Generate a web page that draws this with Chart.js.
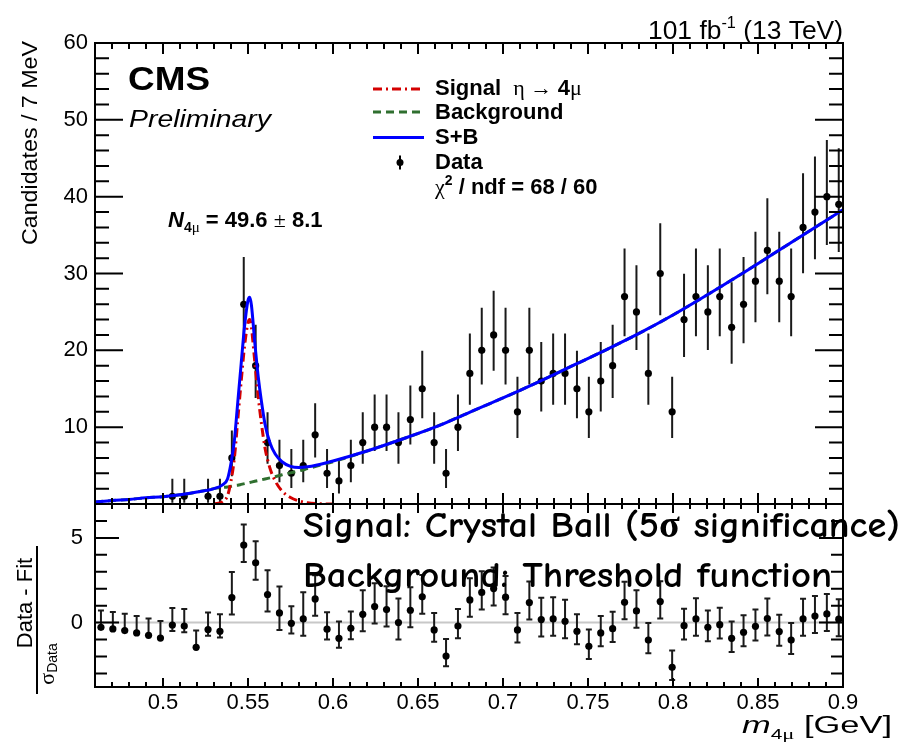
<!DOCTYPE html>
<html>
<head>
<meta charset="utf-8">
<script src="https://cdn.jsdelivr.net/npm/chart.js@4.4.1/dist/chart.umd.min.js"></script>
<style>
  html, body { margin: 0; padding: 0; background: #fff; }
  #wrap { position: relative; width: 903px; height: 746px; }
  #wrap canvas { position: absolute; left: 0; top: 0; }
</style>
</head>
<body>
<div id="wrap">
  <canvas id="fitChart" width="903" height="746"></canvas>
  <canvas id="pullChart" width="903" height="746"></canvas>
</div>
<script>
// m(4mu) bin centres in GeV (7 MeV bins)
const massBins = [
  0.4635, 0.4705, 0.4775, 0.4845, 0.4915, 0.4985, 0.5055, 0.5125, 0.5195, 0.5265,
  0.5335, 0.5405, 0.5475, 0.5545, 0.5615, 0.5685, 0.5755, 0.5825, 0.5895, 0.5965,
  0.6035, 0.6105, 0.6175, 0.6245, 0.6315, 0.6385, 0.6455, 0.6525, 0.6595, 0.6665,
  0.6735, 0.6805, 0.6875, 0.6945, 0.7015, 0.7085, 0.7155, 0.7225, 0.7295, 0.7365,
  0.7435, 0.7505, 0.7575, 0.7645, 0.7715, 0.7785, 0.7855, 0.7925, 0.7995, 0.8065,
  0.8135, 0.8205, 0.8275, 0.8345, 0.8415, 0.8485, 0.8555, 0.8625, 0.8695, 0.8765,
  0.8835, 0.8905, 0.8975
];

// candidates per bin
const counts = [
  0, 0, 0, 0, 0, 0, 1, 1, 0, 1,
  1, 6, 26, 18, 8, 5, 4, 5, 9, 4,
  3, 5, 8, 10, 10, 8, 11, 15, 8, 4,
  10, 17, 20, 22, 20, 12, 20, 16, 17, 17,
  15, 12, 16, 18, 27, 25, 17, 30, 12, 24,
  27, 25, 27, 23, 26, 29, 33, 29, 27, 36,
  38, 40, 39
];

// (Data - Fit) / sigma_Data per bin
const pulls = [
  -0.28, -0.37, -0.47, -0.61, -0.75, -0.91, -0.14, -0.2, -1.46, -0.41,
  -0.51, 1.48, 4.58, 3.53, 1.66, 0.57, -0.04, 0.22, 1.40, -0.39,
  -0.93, -0.34, 0.49, 0.95, 0.77, 0.0, 0.73, 1.52, -0.43, -1.97,
  -0.2, 1.34, 1.78, 2.01, 1.5, -0.43, 1.18, 0.18, 0.22, 0.08,
  -0.51, -1.4, -0.61, -0.36, 1.2, 0.69, -1.03, 1.24, -2.64, -0.18,
  0.22, -0.28, -0.12, -0.93, -0.57, -0.22, 0.24, -0.53, -1.03, 0.22,
  0.39, 0.51, 0.2
];

// fitted S+B and background curves
const curveMass = [
  0.46, 0.47, 0.48, 0.49, 0.50, 0.51, 0.52, 0.53, 0.535, 0.538,
  0.540, 0.542, 0.544, 0.546, 0.548, 0.550, 0.551, 0.552, 0.554, 0.556,
  0.558, 0.560, 0.563, 0.566, 0.570, 0.575, 0.580, 0.585, 0.590, 0.60,
  0.62, 0.64, 0.66, 0.68, 0.70, 0.72, 0.74, 0.76, 0.78, 0.80,
  0.82, 0.84, 0.86, 0.88, 0.90
];
const sbCurve = [
  0.25, 0.45, 0.6, 0.8, 0.95, 1.2, 1.55, 2.0, 2.5, 3.3,
  5.3, 8.3, 13.3, 18.3, 23.2, 26.5, 26.9, 25.9, 21.0, 16.6,
  13.2, 10.4, 7.9, 6.5, 5.5, 4.9, 4.75, 4.85, 5.05, 5.6,
  6.9, 8.4, 10.0, 11.9, 13.8, 15.8, 17.9, 20.0, 22.2, 24.6,
  27.2, 29.9, 32.7, 35.5, 38.3
];
const bkgCurve = [
  0.25, 0.45, 0.6, 0.8, 0.95, 1.2, 1.55, 2.0, 2.15, 2.2,
  2.3, 2.4, 2.45, 2.55, 2.65, 2.75, 2.8, 2.85, 2.95, 3.05,
  3.15, 3.25, 3.4, 3.55, 3.8, 4.05, 4.3, 4.6, 4.9, 5.5,
  6.9, 8.4, 10.0, 11.9, 13.8, 15.8, 17.9, 20.0, 22.2, 24.6,
  27.2, 29.9, 32.7, 35.5, 38.3
];

// Crystal Ball signal component
const sigMass = [
  0.53, 0.535, 0.538, 0.540, 0.542, 0.544, 0.546, 0.548, 0.550, 0.551,
  0.552, 0.554, 0.556, 0.558, 0.560, 0.563, 0.566, 0.570, 0.575, 0.580,
  0.585, 0.590, 0.60
];
const sigCurve = [
  0.02, 0.3, 1.1, 3.0, 6.0, 11.0, 16.0, 20.6, 23.6, 24.0,
  23.0, 18.5, 14.0, 10.3, 7.3, 4.6, 3.0, 1.7, 0.85, 0.4,
  0.15, 0.05, 0
];

const xTickLabels = [0.5, 0.55, 0.6, 0.65, 0.7, 0.75, 0.8, 0.85, 0.9];
const yTickLabelsFit = [10, 20, 30, 40, 50, 60];
const yTickLabelsPull = [0, 5];

const SANS = '"Liberation Sans", Arial, Helvetica, sans-serif';
const SERIF = '"Liberation Serif", "Times New Roman", serif';
const HAND = '"Comic Sans MS", "Comic Neue", "Segoe Print", cursive';

// asymmetric Poisson interval (Wilson-Hilferty approximation)
function poissonErr(n) {
  if (n === 0) return [0, 1.84];
  const lo = n * Math.pow(1 - 1 / (9 * n) - 1 / (3 * Math.sqrt(n)), 3);
  const m = n + 1;
  const hi = m * Math.pow(1 - 1 / (9 * m) + 1 / (3 * Math.sqrt(m)), 3);
  return [n - lo, hi - n];
}

// draws a run of differently styled pieces, optionally squeezed to a width
function textRun(ctx, parts, x, y, align, width) {
  let w = 0;
  for (const p of parts) { ctx.font = p.f; w += ctx.measureText(p.t).width; }
  const sx = width ? width / w : 1;
  const full = w * sx;
  const x0 = align === 'right' ? x - full : align === 'center' ? x - full / 2 : x;
  ctx.save();
  ctx.textAlign = 'left';
  ctx.translate(x0, y);
  ctx.scale(sx, 1);
  let cx = 0;
  for (const p of parts) {
    ctx.font = p.f;
    ctx.fillText(p.t, cx, p.dy || 0);
    cx += ctx.measureText(p.t).width;
  }
  ctx.restore();
}

function drawFrame(chart, spec) {
  const { ctx, chartArea: a, scales: { x, y } } = chart;
  ctx.save();
  ctx.strokeStyle = '#000';
  ctx.lineWidth = 2;
  ctx.beginPath();
  for (let k = 46; k <= 90; k++) {
    const px = x.getPixelForValue(k / 100);
    const len = k % 5 === 0 ? spec.xMajor : spec.xMinor;
    ctx.moveTo(px, a.bottom); ctx.lineTo(px, a.bottom - len);
    ctx.moveTo(px, a.top); ctx.lineTo(px, a.top + len);
  }
  for (let v = spec.yFrom; v <= spec.yTo; v += spec.yStep) {
    const py = y.getPixelForValue(v);
    const len = v % spec.yEvery === 0 ? spec.yMajor : spec.yMinor;
    ctx.moveTo(a.left, py); ctx.lineTo(a.left + len, py);
    ctx.moveTo(a.right, py); ctx.lineTo(a.right - len, py);
  }
  ctx.stroke();
  ctx.strokeRect(a.left, a.top, a.right - a.left, a.bottom - a.top);

  ctx.fillStyle = '#000';
  ctx.font = '22px ' + SANS;
  ctx.textAlign = 'right';
  ctx.textBaseline = 'middle';
  for (const v of spec.yLabels) {
    ctx.fillText(String(v), spec.yLabelX, y.getPixelForValue(v));
  }
  ctx.restore();
}

const fitDecor = {
  id: 'fitDecor',
  beforeDatasetsDraw(chart) {
    const { ctx, chartArea: a, scales: { x, y } } = chart;
    ctx.save();
    ctx.beginPath();
    ctx.rect(a.left, a.top, a.right - a.left, a.bottom - a.top);
    ctx.clip();
    ctx.strokeStyle = '#1a1a1a';
    ctx.lineWidth = 2;
    ctx.beginPath();
    counts.forEach((n, i) => {
      if (n === 0) return;
      const [lo, hi] = poissonErr(n);
      const px = x.getPixelForValue(massBins[i]);
      ctx.moveTo(px, y.getPixelForValue(n - lo));
      ctx.lineTo(px, y.getPixelForValue(n + hi));
    });
    ctx.stroke();
    ctx.restore();
  },
  afterDraw(chart) {
    const ctx = chart.ctx;
    drawFrame(chart, {
      xMajor: 11, xMinor: 6,
      yFrom: 0, yTo: 60, yStep: 2, yEvery: 10, yMajor: 28, yMinor: 14,
      yLabels: yTickLabelsFit, yLabelX: 88
    });

    ctx.save();
    ctx.fillStyle = '#000';
    ctx.textBaseline = 'alphabetic';

    textRun(ctx, [
      { t: '101 fb', f: '26px ' + SANS },
      { t: '-1', f: '16px ' + SANS, dy: -11 },
      { t: ' (13 TeV)', f: '26px ' + SANS }
    ], 843, 39, 'right', 195);

    textRun(ctx, [{ t: 'CMS', f: 'bold 33px ' + SANS }], 128, 90, 'left', 82);
    textRun(ctx, [{ t: 'Preliminary', f: 'italic 24px ' + SANS }], 129, 127, 'left', 142);

    // legend
    const B22 = 'bold 22px ' + SANS;
    const S22 = '22px ' + SERIF;
    const rows = [95, 119, 143.5, 168.5, 194];
    textRun(ctx, [
      { t: 'Signal  ', f: B22 }, { t: 'η → ', f: S22 },
      { t: '4', f: B22 }, { t: 'μ', f: S22 }
    ], 435, rows[0], 'left');
    textRun(ctx, [{ t: 'Background', f: B22 }], 435, rows[1], 'left');
    textRun(ctx, [{ t: 'S+B', f: B22 }], 435, rows[2], 'left');
    textRun(ctx, [{ t: 'Data', f: B22 }], 435, rows[3], 'left');
    textRun(ctx, [
      { t: 'χ', f: S22 }, { t: '2', f: 'bold 14px ' + SANS, dy: -9 },
      { t: ' / ndf = 68 / 60', f: B22 }
    ], 435, rows[4], 'left');

    ctx.lineWidth = 3;
    ctx.strokeStyle = '#d40000';
    ctx.setLineDash([9, 4, 2, 4]);
    ctx.beginPath(); ctx.moveTo(373, rows[0] - 6); ctx.lineTo(424, rows[0] - 6); ctx.stroke();
    ctx.strokeStyle = '#2f6f2f';
    ctx.setLineDash([8, 5]);
    ctx.beginPath(); ctx.moveTo(373, rows[1] - 7); ctx.lineTo(424, rows[1] - 7); ctx.stroke();
    ctx.setLineDash([]);
    ctx.strokeStyle = '#0000ff';
    ctx.beginPath(); ctx.moveTo(373, rows[2] - 6); ctx.lineTo(424, rows[2] - 6); ctx.stroke();
    ctx.lineWidth = 2;
    ctx.strokeStyle = '#000';
    ctx.beginPath(); ctx.moveTo(400, rows[3] - 13); ctx.lineTo(400, rows[3] + 1); ctx.stroke();
    ctx.beginPath(); ctx.arc(400, rows[3] - 6, 3.5, 0, Math.PI * 2); ctx.fill();

    textRun(ctx, [
      { t: 'N', f: 'italic bold 22px ' + SANS },
      { t: '4', f: 'bold 14px ' + SANS, dy: 5 },
      { t: 'μ', f: '15px ' + SERIF, dy: 5 },
      { t: ' = 49.6 ', f: B22 },
      { t: '±', f: S22 },
      { t: ' 8.1', f: B22 }
    ], 168, 227, 'left');

    // y axis title
    ctx.translate(31, 41);
    ctx.rotate(-Math.PI / 2);
    ctx.textBaseline = 'middle';
    textRun(ctx, [{ t: 'Candidates / 7 MeV', f: '22px ' + SANS }], 0, 0, 'right', 204);
    ctx.restore();
  }
};

const pullDecor = {
  id: 'pullDecor',
  beforeDatasetsDraw(chart) {
    const { ctx, chartArea: a, scales: { x, y } } = chart;
    ctx.save();
    ctx.strokeStyle = '#c8c8c8';
    ctx.lineWidth = 2;
    ctx.beginPath();
    ctx.moveTo(a.left, y.getPixelForValue(0));
    ctx.lineTo(a.right, y.getPixelForValue(0));
    ctx.stroke();

    ctx.strokeStyle = '#1a1a1a';
    ctx.lineWidth = 2;
    ctx.beginPath();
    pulls.forEach((p, i) => {
      const [lo, hi] = poissonErr(counts[i]);
      const down = p >= 0 ? 1 : lo / hi;
      const up = p >= 0 ? hi / lo : 1;
      const px = x.getPixelForValue(massBins[i]);
      const y0 = y.getPixelForValue(p - down);
      const y1 = y.getPixelForValue(p + up);
      ctx.moveTo(px, y0); ctx.lineTo(px, y1);
      ctx.moveTo(px - 3, y0); ctx.lineTo(px + 3, y0);
      ctx.moveTo(px - 3, y1); ctx.lineTo(px + 3, y1);
    });
    ctx.stroke();
    ctx.restore();
  },
  afterDraw(chart) {
    const { ctx, chartArea: a, scales: { x } } = chart;
    drawFrame(chart, {
      xMajor: 9, xMinor: 5,
      yFrom: -3, yTo: 7, yStep: 1, yEvery: 5, yMajor: 24, yMinor: 12,
      yLabels: yTickLabelsPull, yLabelX: 83
    });

    ctx.save();
    ctx.fillStyle = '#000';
    ctx.font = '22px ' + SANS;
    ctx.textAlign = 'center';
    ctx.textBaseline = 'top';
    for (const v of xTickLabels) {
      ctx.fillText(String(v), x.getPixelForValue(v), a.bottom + 5);
    }

    ctx.textBaseline = 'alphabetic';
    textRun(ctx, [
      { t: 'm', f: 'italic 23px ' + SANS },
      { t: '4', f: '14px ' + SANS, dy: 6 },
      { t: 'μ', f: '15px ' + SERIF, dy: 6 },
      { t: ' [GeV]', f: '23px ' + SANS }
    ], 892, 733, 'right', 150);

    // pull axis title as a fraction
    ctx.save();
    ctx.rotate(-Math.PI / 2);
    ctx.textBaseline = 'middle';
    textRun(ctx, [{ t: 'Data - Fit', f: '22px ' + SANS }], -603, 26, 'center');
    textRun(ctx, [
      { t: 'σ', f: '22px ' + SERIF },
      { t: 'Data', f: '14px ' + SANS, dy: 5 }
    ], -664, 48, 'center');
    ctx.restore();
    ctx.strokeStyle = '#000';
    ctx.lineWidth = 2;
    ctx.beginPath();
    ctx.moveTo(37, 546); ctx.lineTo(37, 694);
    ctx.stroke();

    // annotation across the pull panel
    ctx.textBaseline = 'alphabetic';
    textRun(ctx, [{ t: 'Signal: Crystal Ball (5σ significance)', f: 'bold 37px ' + HAND }],
      303, 537, 'left', 597);
    textRun(ctx, [{ t: 'Background: Threshold function', f: 'bold 37px ' + HAND }],
      303, 587, 'left', 529);
    ctx.restore();
  }
};

const toXY = (xs, ys) => xs.map((m, i) => ({ x: m, y: ys[i] }));

new Chart(document.getElementById('fitChart'), {
  type: 'scatter',
  data: {
    datasets: [
      {
        label: 'S+B',
        data: toXY(curveMass, sbCurve),
        showLine: true, pointRadius: 0, borderColor: '#0000ff', borderWidth: 3,
        cubicInterpolationMode: 'monotone', order: 1
      },
      {
        label: 'Signal',
        data: toXY(sigMass, sigCurve),
        showLine: true, pointRadius: 0, borderColor: '#d40000', borderWidth: 3,
        borderDash: [9, 4, 2, 4], cubicInterpolationMode: 'monotone', order: 2
      },
      {
        label: 'Background',
        data: toXY(curveMass, bkgCurve),
        showLine: true, pointRadius: 0, borderColor: '#2f6f2f', borderWidth: 3,
        borderDash: [8, 5], cubicInterpolationMode: 'monotone', order: 3
      },
      {
        label: 'Data',
        data: toXY(massBins, counts).filter(p => p.y > 0),
        pointRadius: 3.6, backgroundColor: '#000', borderWidth: 0, order: 4
      }
    ]
  },
  options: {
    responsive: false,
    animation: false,
    devicePixelRatio: 1,
    layout: { padding: { left: 95, right: 60, top: 43, bottom: 242 } },
    scales: {
      x: { type: 'linear', min: 0.46, max: 0.9, display: false },
      y: { type: 'linear', min: 0, max: 60, display: false }
    },
    plugins: { legend: { display: false }, tooltip: { enabled: false } }
  },
  plugins: [fitDecor]
});

new Chart(document.getElementById('pullChart'), {
  type: 'scatter',
  data: {
    datasets: [{
      label: 'Pull',
      data: toXY(massBins, pulls),
      pointRadius: 3.6, backgroundColor: '#000', borderWidth: 0
    }]
  },
  options: {
    responsive: false,
    animation: false,
    devicePixelRatio: 1,
    layout: { padding: { left: 95, right: 60, top: 504, bottom: 59 } },
    scales: {
      x: { type: 'linear', min: 0.46, max: 0.9, display: false },
      y: { type: 'linear', min: -3.8, max: 7.0, display: false }
    },
    plugins: { legend: { display: false }, tooltip: { enabled: false } }
  },
  plugins: [pullDecor]
});
</script>
</body>
</html>
